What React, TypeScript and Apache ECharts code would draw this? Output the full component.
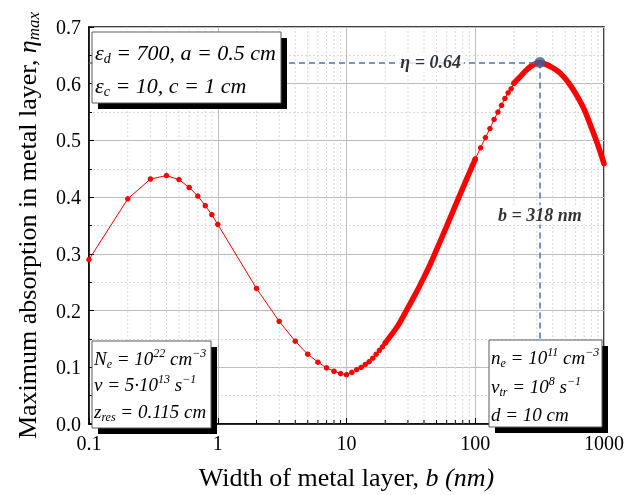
import React, { useEffect, useRef } from 'react';
import * as echarts from 'echarts';

const F = "'Liberation Serif', 'Times New Roman', serif";

// Sparse low-b part (visible markers)
const bLow = [0.1, 0.2, 0.3, 0.4, 0.5, 0.6, 0.7, 0.8, 0.9, 1, 2, 3, 4, 5, 6, 7, 8, 9, 10, 11, 12, 13, 14, 15, 16, 17, 18, 19, 20];
const etaLow = [0.290, 0.397, 0.432, 0.438, 0.431, 0.417, 0.402, 0.385, 0.369, 0.352, 0.239, 0.181, 0.146, 0.123, 0.109, 0.099, 0.093, 0.089, 0.087, 0.091, 0.096, 0.100, 0.105, 0.110, 0.116, 0.123, 0.130, 0.136, 0.143];

// Dense rising part (markers merge into a thick line)
const bRise = [20, 25, 30, 35, 40, 45, 50, 60, 70, 80, 90, 100];
const etaRise = [0.143, 0.173, 0.205, 0.233, 0.259, 0.283, 0.307, 0.349, 0.385, 0.416, 0.443, 0.467];

// Separated markers between 100 and 200 nm
const bMid = [100, 110, 120, 130, 140, 150, 160, 170, 180, 190, 200];
const etaMid = [0.467, 0.487, 0.505, 0.521, 0.537, 0.550, 0.562, 0.574, 0.584, 0.591, 0.601];

// Dense part around the peak and beyond
const bHigh = [200, 220, 250, 280, 318, 350, 400, 450, 500, 560, 630, 700, 800, 900, 1000];
const etaHigh = [0.601, 0.611, 0.624, 0.633, 0.6375, 0.6345, 0.628, 0.620, 0.609, 0.594, 0.575, 0.555, 0.522, 0.491, 0.459];

const peakB = 318;
const peakEta = 0.6375;
const etaLabel = 'η = 0.64';
const bLabel = 'b = 318 nm';
const etaLabelPos = [45, 0.6375];
const bLabelPos = [318, 0.369];

const xTickValues = [0.1, 1, 10, 100, 1000];
const minorXTicks = [0.2, 0.3, 0.4, 0.5, 0.6, 0.7, 0.8, 0.9, 2, 3, 4, 5, 6, 7, 8, 9, 20, 30, 40, 50, 60, 70, 80, 90, 200, 300, 400, 500, 600, 700, 800, 900];

const pair = (xs: number[], ys: number[]) => xs.map((x, i) => [x, ys[i]]);

function richFor(size: number, subSize: number) {
  return {
    n: { fontFamily: F, fontSize: size, fontStyle: 'italic', color: '#000', lineHeight: size + 4, verticalAlign: 'middle' },
    sub: { fontFamily: F, fontSize: subSize, fontStyle: 'italic', color: '#000', lineHeight: subSize - 1, verticalAlign: 'bottom' },
    sup: { fontFamily: F, fontSize: subSize, fontStyle: 'italic', color: '#000', lineHeight: subSize - 1, verticalAlign: 'top' },
  };
}

export default function App() {
  const ref = useRef<HTMLDivElement>(null);
  useEffect(() => {
    const chart = echarts.init(ref.current!, null, { renderer: 'svg' });
    const red = '#ff0000';
    const blueLine = '#4a72b4';
    const blueDot = '#3b5d92';
    const r1 = richFor(22, 14);
    const r2 = richFor(19, 12);

    const txt = (x: number, y: number, text: string, rich: any) => ({
      type: 'text', x, y, z: 102,
      style: { text, rich, verticalAlign: 'middle', align: 'left', fill: '#000' },
    });
    const box = (x: number, y: number, w: number, h: number) => [
      { type: 'rect', z: 100, shape: { x: x + 6, y: y + 6, width: w, height: h }, style: { fill: '#000' } },
      { type: 'rect', z: 101, shape: { x, y, width: w, height: h }, style: { fill: '#fff', stroke: '#5a5a5a', lineWidth: 1 } },
    ];

    const option: any = {
      animation: false,
      textStyle: { fontFamily: F },
      grid: { left: 89, top: 27, right: 19, bottom: 62, show: true, borderColor: '#000', borderWidth: 1.5, backgroundColor: 'transparent' },
      xAxis: {
        type: 'log', logBase: 10, min: 0.1, max: 1000,
        axisLine: { lineStyle: { color: '#000', width: 1.5 } },
        axisTick: { inside: true, length: 6, lineStyle: { color: '#000' } },
        axisLabel: {
          fontFamily: F, fontSize: 20, color: '#000', margin: 9, showMinLabel: true, showMaxLabel: true,
          formatter: (v: number) => {
            const t = xTickValues.find((u) => Math.abs(Math.log10(u) - Math.log10(v)) < 1e-6);
            return t === undefined ? '' : (t < 1 ? t.toFixed(1) : String(t));
          },
        },
        splitLine: { show: true, lineStyle: { color: '#bdbdbd', width: 1 } },
        name: 'Width of metal layer, {i|b (nm)}',
        nameLocation: 'middle', nameGap: 40,
        nameTextStyle: {
          fontFamily: F, fontSize: 26, color: '#000',
          rich: { i: { fontFamily: F, fontSize: 26, fontStyle: 'italic', color: '#000' } },
        },
      },
      yAxis: {
        type: 'value', min: 0, max: 0.7, interval: 0.1,
        axisLine: { show: true, lineStyle: { color: '#000', width: 1.5 } },
        axisTick: { show: true, inside: true, length: 5, lineStyle: { color: '#000' } },
        minorTick: { show: true, splitNumber: 2, length: 3, lineStyle: { color: '#000' } },
        minorSplitLine: { show: true, lineStyle: { color: '#dadada', type: [2, 2] } },
        splitLine: { show: true, lineStyle: { color: '#bdbdbd', width: 1 } },
        axisLabel: { fontFamily: F, fontSize: 20, color: '#000', margin: 8, formatter: (v: number) => v.toFixed(1) },
        name: 'Maximum absorption in metal layer, {i|η}{s|max}',
        nameLocation: 'middle', nameRotate: 90, nameGap: 47,
        nameTextStyle: {
          fontFamily: F, fontSize: 26, color: '#000',
          rich: {
            i: { fontFamily: F, fontSize: 26, fontStyle: 'italic', color: '#000', lineHeight: 30, verticalAlign: 'middle' },
            s: { fontFamily: F, fontSize: 17, fontStyle: 'italic', color: '#000', lineHeight: 16, verticalAlign: 'bottom' },
          },
        },
      },
      series: [
        {
          type: 'custom', coordinateSystem: 'cartesian2d', z: 1, silent: true, clip: false,
          encode: { x: 0, y: 1 },
          data: minorXTicks.map((v) => [v, 0]),
          renderItem: (params: any, api: any) => {
            const x = api.coord([api.value(0), 0])[0];
            const cs = params.coordSys;
            const top = cs.y;
            const bottom = cs.y + cs.height;
            return {
              type: 'group',
              children: [
                { type: 'line', shape: { x1: x, y1: top, x2: x, y2: bottom }, style: { stroke: '#dadada', lineWidth: 1, lineDash: [2, 2] } },
                { type: 'line', shape: { x1: x, y1: bottom, x2: x, y2: bottom - 4 }, style: { stroke: '#000', lineWidth: 1 } },
              ],
            };
          },
        },
        {
          type: 'line', data: pair(bLow, etaLow), z: 3,
          lineStyle: { color: red, width: 1 }, itemStyle: { color: red },
          symbol: 'circle', symbolSize: 5.5, showSymbol: true,
        },
        {
          type: 'line', data: pair(bRise, etaRise), z: 3, smooth: 0.3,
          lineStyle: { color: red, width: 5.5, cap: 'round' }, showSymbol: false, symbol: 'none',
        },
        {
          type: 'line', data: pair(bMid, etaMid), z: 3,
          lineStyle: { color: red, width: 1 }, itemStyle: { color: red },
          symbol: 'circle', symbolSize: 5.5, showSymbol: true,
        },
        {
          type: 'line', data: pair(bHigh, etaHigh), z: 3, smooth: 0.3,
          lineStyle: { color: red, width: 5.5, cap: 'round' }, showSymbol: false, symbol: 'none',
        },
        {
          type: 'scatter', data: [[peakB, peakEta]], z: 6, symbolSize: 11,
          itemStyle: { color: blueDot },
          markLine: {
            silent: true, symbol: 'none', z: 4,
            lineStyle: { color: blueLine, width: 1.5, type: [6, 4] },
            label: { show: false },
            data: [
              [{ coord: [0.1, peakEta] }, { coord: [peakB, peakEta] }],
              [{ coord: [peakB, peakEta] }, { coord: [peakB, 0] }],
            ],
          },
        },
        {
          type: 'scatter', data: [etaLabelPos], z: 7, symbolSize: 0, silent: true,
          label: {
            show: true, position: 'inside', formatter: etaLabel,
            fontFamily: F, fontSize: 18, fontWeight: 'bold', fontStyle: 'italic', color: '#000',
            backgroundColor: '#fff', padding: [1, 3],
          },
        },
        {
          type: 'scatter', data: [bLabelPos], z: 7, symbolSize: 0, silent: true,
          label: {
            show: true, position: 'inside', formatter: bLabel,
            fontFamily: F, fontSize: 18, fontWeight: 'bold', fontStyle: 'italic', color: '#000',
            backgroundColor: '#fff', padding: [1, 3],
          },
        },
      ],
      graphic: {
        elements: [
          ...box(92, 32, 189, 71),
          txt(95, 52, '{n|ε}{sub|d}{n| = 700, a = 0.5 cm}', r1),
          txt(95, 85, '{n|ε}{sub|c}{n| = 10, c = 1 cm}', r1),
          ...box(92, 341, 119, 87),
          txt(94, 358, '{n|N}{sub|e}{n| = 10}{sup|22}{n| cm}{sup|−3}', r2),
          txt(94, 384, '{n|ν = 5·10}{sup|13}{n| s}{sup|−1}', r2),
          txt(94, 411, '{n|z}{sub|res}{n| = 0.115 cm}', r2),
          ...box(489, 340, 113, 87),
          txt(491, 357, '{n|n}{sub|e}{n| = 10}{sup|11}{n| cm}{sup|−3}', r2),
          txt(491, 386, '{n|ν}{sub|tr}{n| = 10}{sup|8}{n| s}{sup|−1}', r2),
          txt(491, 414, '{n|d = 10 cm}', r2),
        ],
      },
    };
    chart.setOption(option);
    return () => chart.dispose();
  }, []);
  return <div ref={ref} style={{ position: 'fixed', left: 0, top: 0, width: 627, height: 495 }} />;
}
